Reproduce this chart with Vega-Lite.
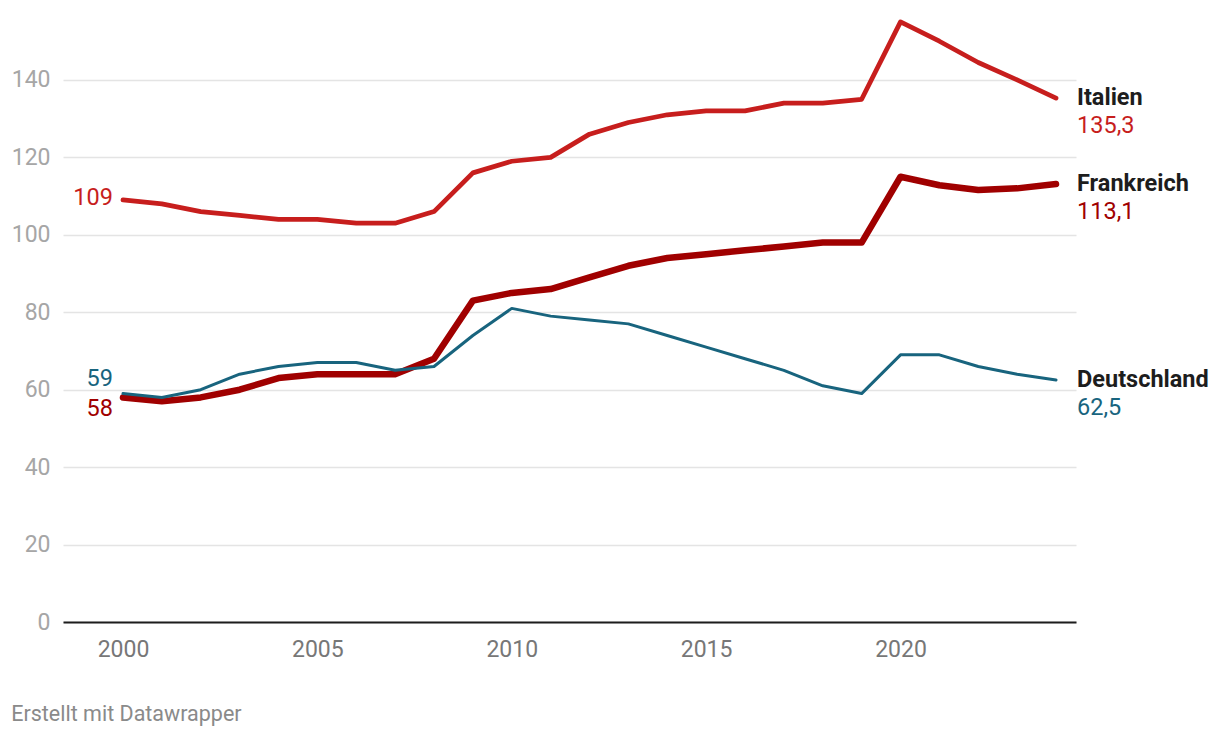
{
  "$schema": "https://vega.github.io/schema/vega-lite/v6.json",
  "width": 1013,
  "height": 604,
  "autosize": {"type": "none"},
  "padding": {"left": 63, "top": 18, "right": 144, "bottom": 116},
  "background": "white",
  "title": {
    "text": "Erstellt mit Datawrapper",
    "orient": "bottom",
    "anchor": "start",
    "frame": "bounds",
    "offset": 43,
    "font": "Roboto",
    "fontSize": 21.5,
    "fontWeight": "normal",
    "color": "#8a8a8a"
  },
  "config": {
    "view": {"stroke": null},
    "font": "Roboto",
    "locale": {"number": {"decimal": ",", "thousands": ".", "grouping": [3], "currency": ["", " €"]}}
  },
  "data": {
    "values": [
      {"year": 2000, "country": "Frankreich", "value": 58},
      {"year": 2001, "country": "Frankreich", "value": 57},
      {"year": 2002, "country": "Frankreich", "value": 58},
      {"year": 2003, "country": "Frankreich", "value": 60},
      {"year": 2004, "country": "Frankreich", "value": 63},
      {"year": 2005, "country": "Frankreich", "value": 64},
      {"year": 2006, "country": "Frankreich", "value": 64},
      {"year": 2007, "country": "Frankreich", "value": 64},
      {"year": 2008, "country": "Frankreich", "value": 68},
      {"year": 2009, "country": "Frankreich", "value": 83},
      {"year": 2010, "country": "Frankreich", "value": 85},
      {"year": 2011, "country": "Frankreich", "value": 86},
      {"year": 2012, "country": "Frankreich", "value": 89},
      {"year": 2013, "country": "Frankreich", "value": 92},
      {"year": 2014, "country": "Frankreich", "value": 94},
      {"year": 2015, "country": "Frankreich", "value": 95},
      {"year": 2016, "country": "Frankreich", "value": 96},
      {"year": 2017, "country": "Frankreich", "value": 97},
      {"year": 2018, "country": "Frankreich", "value": 98},
      {"year": 2019, "country": "Frankreich", "value": 98},
      {"year": 2020, "country": "Frankreich", "value": 115},
      {"year": 2021, "country": "Frankreich", "value": 112.8},
      {"year": 2022, "country": "Frankreich", "value": 111.6},
      {"year": 2023, "country": "Frankreich", "value": 112},
      {"year": 2024, "country": "Frankreich", "value": 113.1},
      {"year": 2000, "country": "Italien", "value": 109},
      {"year": 2001, "country": "Italien", "value": 108},
      {"year": 2002, "country": "Italien", "value": 106},
      {"year": 2003, "country": "Italien", "value": 105},
      {"year": 2004, "country": "Italien", "value": 104},
      {"year": 2005, "country": "Italien", "value": 104},
      {"year": 2006, "country": "Italien", "value": 103},
      {"year": 2007, "country": "Italien", "value": 103},
      {"year": 2008, "country": "Italien", "value": 106},
      {"year": 2009, "country": "Italien", "value": 116},
      {"year": 2010, "country": "Italien", "value": 119},
      {"year": 2011, "country": "Italien", "value": 120},
      {"year": 2012, "country": "Italien", "value": 126},
      {"year": 2013, "country": "Italien", "value": 129},
      {"year": 2014, "country": "Italien", "value": 131},
      {"year": 2015, "country": "Italien", "value": 132},
      {"year": 2016, "country": "Italien", "value": 132},
      {"year": 2017, "country": "Italien", "value": 134},
      {"year": 2018, "country": "Italien", "value": 134},
      {"year": 2019, "country": "Italien", "value": 135},
      {"year": 2020, "country": "Italien", "value": 155},
      {"year": 2021, "country": "Italien", "value": 150},
      {"year": 2022, "country": "Italien", "value": 144.5},
      {"year": 2023, "country": "Italien", "value": 140},
      {"year": 2024, "country": "Italien", "value": 135.3},
      {"year": 2000, "country": "Deutschland", "value": 59},
      {"year": 2001, "country": "Deutschland", "value": 58},
      {"year": 2002, "country": "Deutschland", "value": 60},
      {"year": 2003, "country": "Deutschland", "value": 64},
      {"year": 2004, "country": "Deutschland", "value": 66},
      {"year": 2005, "country": "Deutschland", "value": 67},
      {"year": 2006, "country": "Deutschland", "value": 67},
      {"year": 2007, "country": "Deutschland", "value": 65},
      {"year": 2008, "country": "Deutschland", "value": 66},
      {"year": 2009, "country": "Deutschland", "value": 74},
      {"year": 2010, "country": "Deutschland", "value": 81},
      {"year": 2011, "country": "Deutschland", "value": 79},
      {"year": 2012, "country": "Deutschland", "value": 78},
      {"year": 2013, "country": "Deutschland", "value": 77},
      {"year": 2014, "country": "Deutschland", "value": 74},
      {"year": 2015, "country": "Deutschland", "value": 71},
      {"year": 2016, "country": "Deutschland", "value": 68},
      {"year": 2017, "country": "Deutschland", "value": 65},
      {"year": 2018, "country": "Deutschland", "value": 61},
      {"year": 2019, "country": "Deutschland", "value": 59},
      {"year": 2020, "country": "Deutschland", "value": 69},
      {"year": 2021, "country": "Deutschland", "value": 69},
      {"year": 2022, "country": "Deutschland", "value": 66},
      {"year": 2023, "country": "Deutschland", "value": 64},
      {"year": 2024, "country": "Deutschland", "value": 62.5}
    ]
  },
  "encoding": {
    "x": {
      "field": "year",
      "type": "quantitative",
      "scale": {"domain": [1998.457, 2024.514], "nice": false, "zero": false},
      "axis": {
        "values": [2000, 2005, 2010, 2015, 2020],
        "format": "d",
        "title": null,
        "grid": false,
        "ticks": false,
        "domain": true,
        "domainColor": "#1d1d1d",
        "domainWidth": 2,
        "labelFontSize": 23,
        "labelColor": "#777777",
        "labelPadding": 16,
        "labelFont": "Roboto"
      }
    },
    "y": {
      "field": "value",
      "type": "quantitative",
      "scale": {"domain": [0, 156], "nice": false},
      "axis": {
        "values": [0, 20, 40, 60, 80, 100, 120, 140],
        "title": null,
        "grid": true,
        "gridColor": "#e4e4e4",
        "gridWidth": 1.5,
        "ticks": false,
        "domain": false,
        "labelFontSize": 23,
        "labelColor": "#a6a6a6",
        "labelPadding": 13,
        "labelFont": "Roboto"
      }
    },
    "color": {
      "field": "country",
      "type": "nominal",
      "scale": {"domain": ["Frankreich", "Italien", "Deutschland"], "range": ["#a00000", "#c71e1d", "#18647e"]},
      "legend": null
    }
  },
  "layer": [
    {
      "mark": {"type": "line", "strokeCap": "round", "strokeJoin": "round"},
      "encoding": {
        "strokeWidth": {
          "field": "country",
          "type": "nominal",
          "scale": {"domain": ["Frankreich", "Italien", "Deutschland"], "range": [6.5, 3, 3]},
          "legend": null
        }
      }
    },
    {
      "transform": [{"filter": "datum.year == 2024"}],
      "mark": {"type": "text", "align": "left", "baseline": "middle", "dx": 21, "fontSize": 23.5, "fontWeight": "bold", "color": "#1d1d1d"},
      "encoding": {
        "text": {"field": "country"},
        "color": {"value": "#1d1d1d"}
      }
    },
    {
      "transform": [{"filter": "datum.year == 2024"}],
      "mark": {"type": "text", "align": "left", "baseline": "middle", "dx": 21, "dy": 28, "fontSize": 23.5},
      "encoding": {
        "text": {"field": "value", "format": ".1f"}
      }
    },
    {
      "transform": [{"filter": "datum.year == 2000 && datum.country == 'Italien'"}],
      "mark": {"type": "text", "align": "right", "baseline": "middle", "dx": -10, "dy": -2, "fontSize": 23.5},
      "encoding": {
        "text": {"field": "value", "format": "d"}
      }
    },
    {
      "transform": [{"filter": "datum.year == 2000 && datum.country == 'Deutschland'"}],
      "mark": {"type": "text", "align": "right", "baseline": "middle", "dx": -10, "dy": -15, "fontSize": 23.5},
      "encoding": {
        "text": {"field": "value", "format": "d"}
      }
    },
    {
      "transform": [{"filter": "datum.year == 2000 && datum.country == 'Frankreich'"}],
      "mark": {"type": "text", "align": "right", "baseline": "middle", "dx": -10, "dy": 12, "fontSize": 23.5},
      "encoding": {
        "text": {"field": "value", "format": "d"}
      }
    }
  ]
}
